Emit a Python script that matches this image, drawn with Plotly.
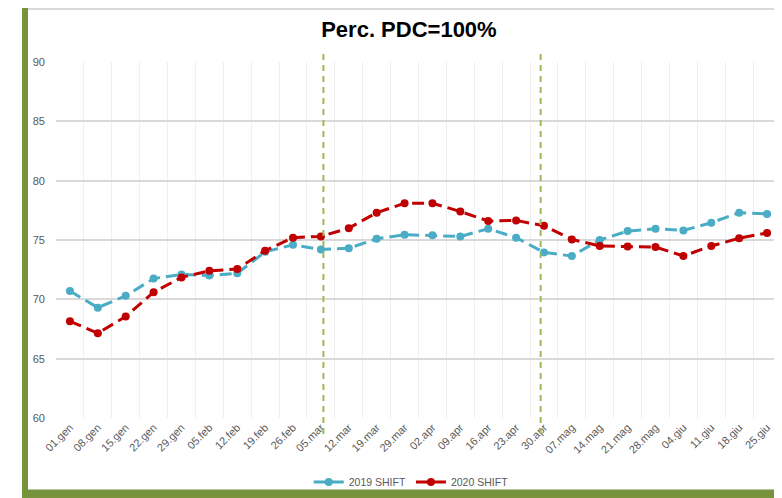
import plotly.graph_objects as go

categories = ["01.gen", "08.gen", "15.gen", "22.gen", "29.gen", "05.feb", "12.feb", "19.feb",
              "26.feb", "05.mar", "12.mar", "19.mar", "29.mar", "02.apr", "09.apr", "16.apr",
              "23.apr", "30.apr", "07.mag", "14.mag", "21.mag", "28.mag", "04.giu", "11.giu",
              "18.giu", "25.giu"]

shift_2019 = [70.7, 69.3, 70.3, 71.75, 72.1, 72.0, 72.2, 74.0, 74.6, 74.2, 74.3, 75.1, 75.45,
              75.4, 75.3, 75.95, 75.2, 73.95, 73.65, 75.0, 75.75, 75.95, 75.8, 76.45, 77.3, 77.2]
shift_2020 = [68.15, 67.15, 68.55, 70.6, 71.85, 72.4, 72.55, 74.1, 75.2, 75.3, 76.0, 77.3, 78.1,
              78.1, 77.4, 76.6, 76.65, 76.2, 75.05, 74.5, 74.45, 74.4, 73.65, 74.5, 75.15, 75.6]

series_names = ["2019 SHIFT", "2020 SHIFT"]
y_ticks = [60, 65, 70, 75, 80, 85, 90]
marker_positions = [9.09, 16.88]  # category positions of vertical dashed markers (05.mar, 30.apr)

fig = go.Figure()
fig.add_trace(go.Scatter(
    x=categories, y=shift_2019, name=series_names[0], mode="lines+markers",
    line=dict(color="#4BACC6", width=3, dash="12px,6px"),
    marker=dict(color="#4BACC6", size=8)))
fig.add_trace(go.Scatter(
    x=categories, y=shift_2020, name=series_names[1], mode="lines+markers",
    line=dict(color="#C00000", width=3, dash="12px,6px"),
    marker=dict(color="#C00000", size=8)))

shapes = []
for xp in marker_positions:
    shapes.append(dict(type="line", xref="x", yref="paper", x0=xp, x1=xp, y0=-0.045, y1=1.035,
                       line=dict(color="#9BBB59", width=2, dash="6px,5px"), layer="above"))
# decorative frame
shapes.append(dict(type="line", xref="paper", yref="paper", x0=-0.039, x1=1.01, y0=1.149, y1=1.149,
                   line=dict(color="#D9D9D9", width=2)))
shapes.append(dict(type="rect", xref="paper", yref="paper", x0=-0.0469, x1=-0.0386, y0=-0.23, y1=1.2,
                   line=dict(width=0), fillcolor="#77933C"))
shapes.append(dict(type="rect", xref="paper", yref="paper", x0=-0.0469, x1=1.01, y0=-0.23, y1=-0.201,
                   line=dict(width=0), fillcolor="#77933C"))

fig.update_layout(
    width=774, height=490,
    margin=dict(l=48, r=1, t=54, b=80),
    paper_bgcolor="white", plot_bgcolor="white",
    title=dict(text="<b>Perc. PDC=100%</b>", x=0.518, xref="container", xanchor="center",
               y=0.957, yref="container", yanchor="middle",
               font=dict(family="Liberation Sans, Arial", size=22, color="black")),
    font=dict(family="Liberation Sans, Arial", size=11, color="#595959"),
    showlegend=True,
    legend=dict(orientation="h", x=0.49, xanchor="center", y=-0.18, yanchor="middle",
                font=dict(size=10.5, color="#595959"), bgcolor="rgba(0,0,0,0)"),
    shapes=shapes,
)
fig.update_xaxes(type="category", tickson="boundaries", showgrid=True, gridcolor="#EFEFEF",
                 gridwidth=1, tickangle=-45, ticks="", showline=False,
                 range=[-0.5, len(categories) - 0.5], tickfont=dict(size=11, color="#595959"))
fig.update_yaxes(range=[60, 90], tickvals=y_ticks, showgrid=True, gridcolor="#D9D9D9", gridwidth=1.5,
                 zeroline=False, showline=False, ticks="", ticklabelstandoff=10,
                 tickfont=dict(size=11, color="#595959"))

fig.write_html("out.html")
